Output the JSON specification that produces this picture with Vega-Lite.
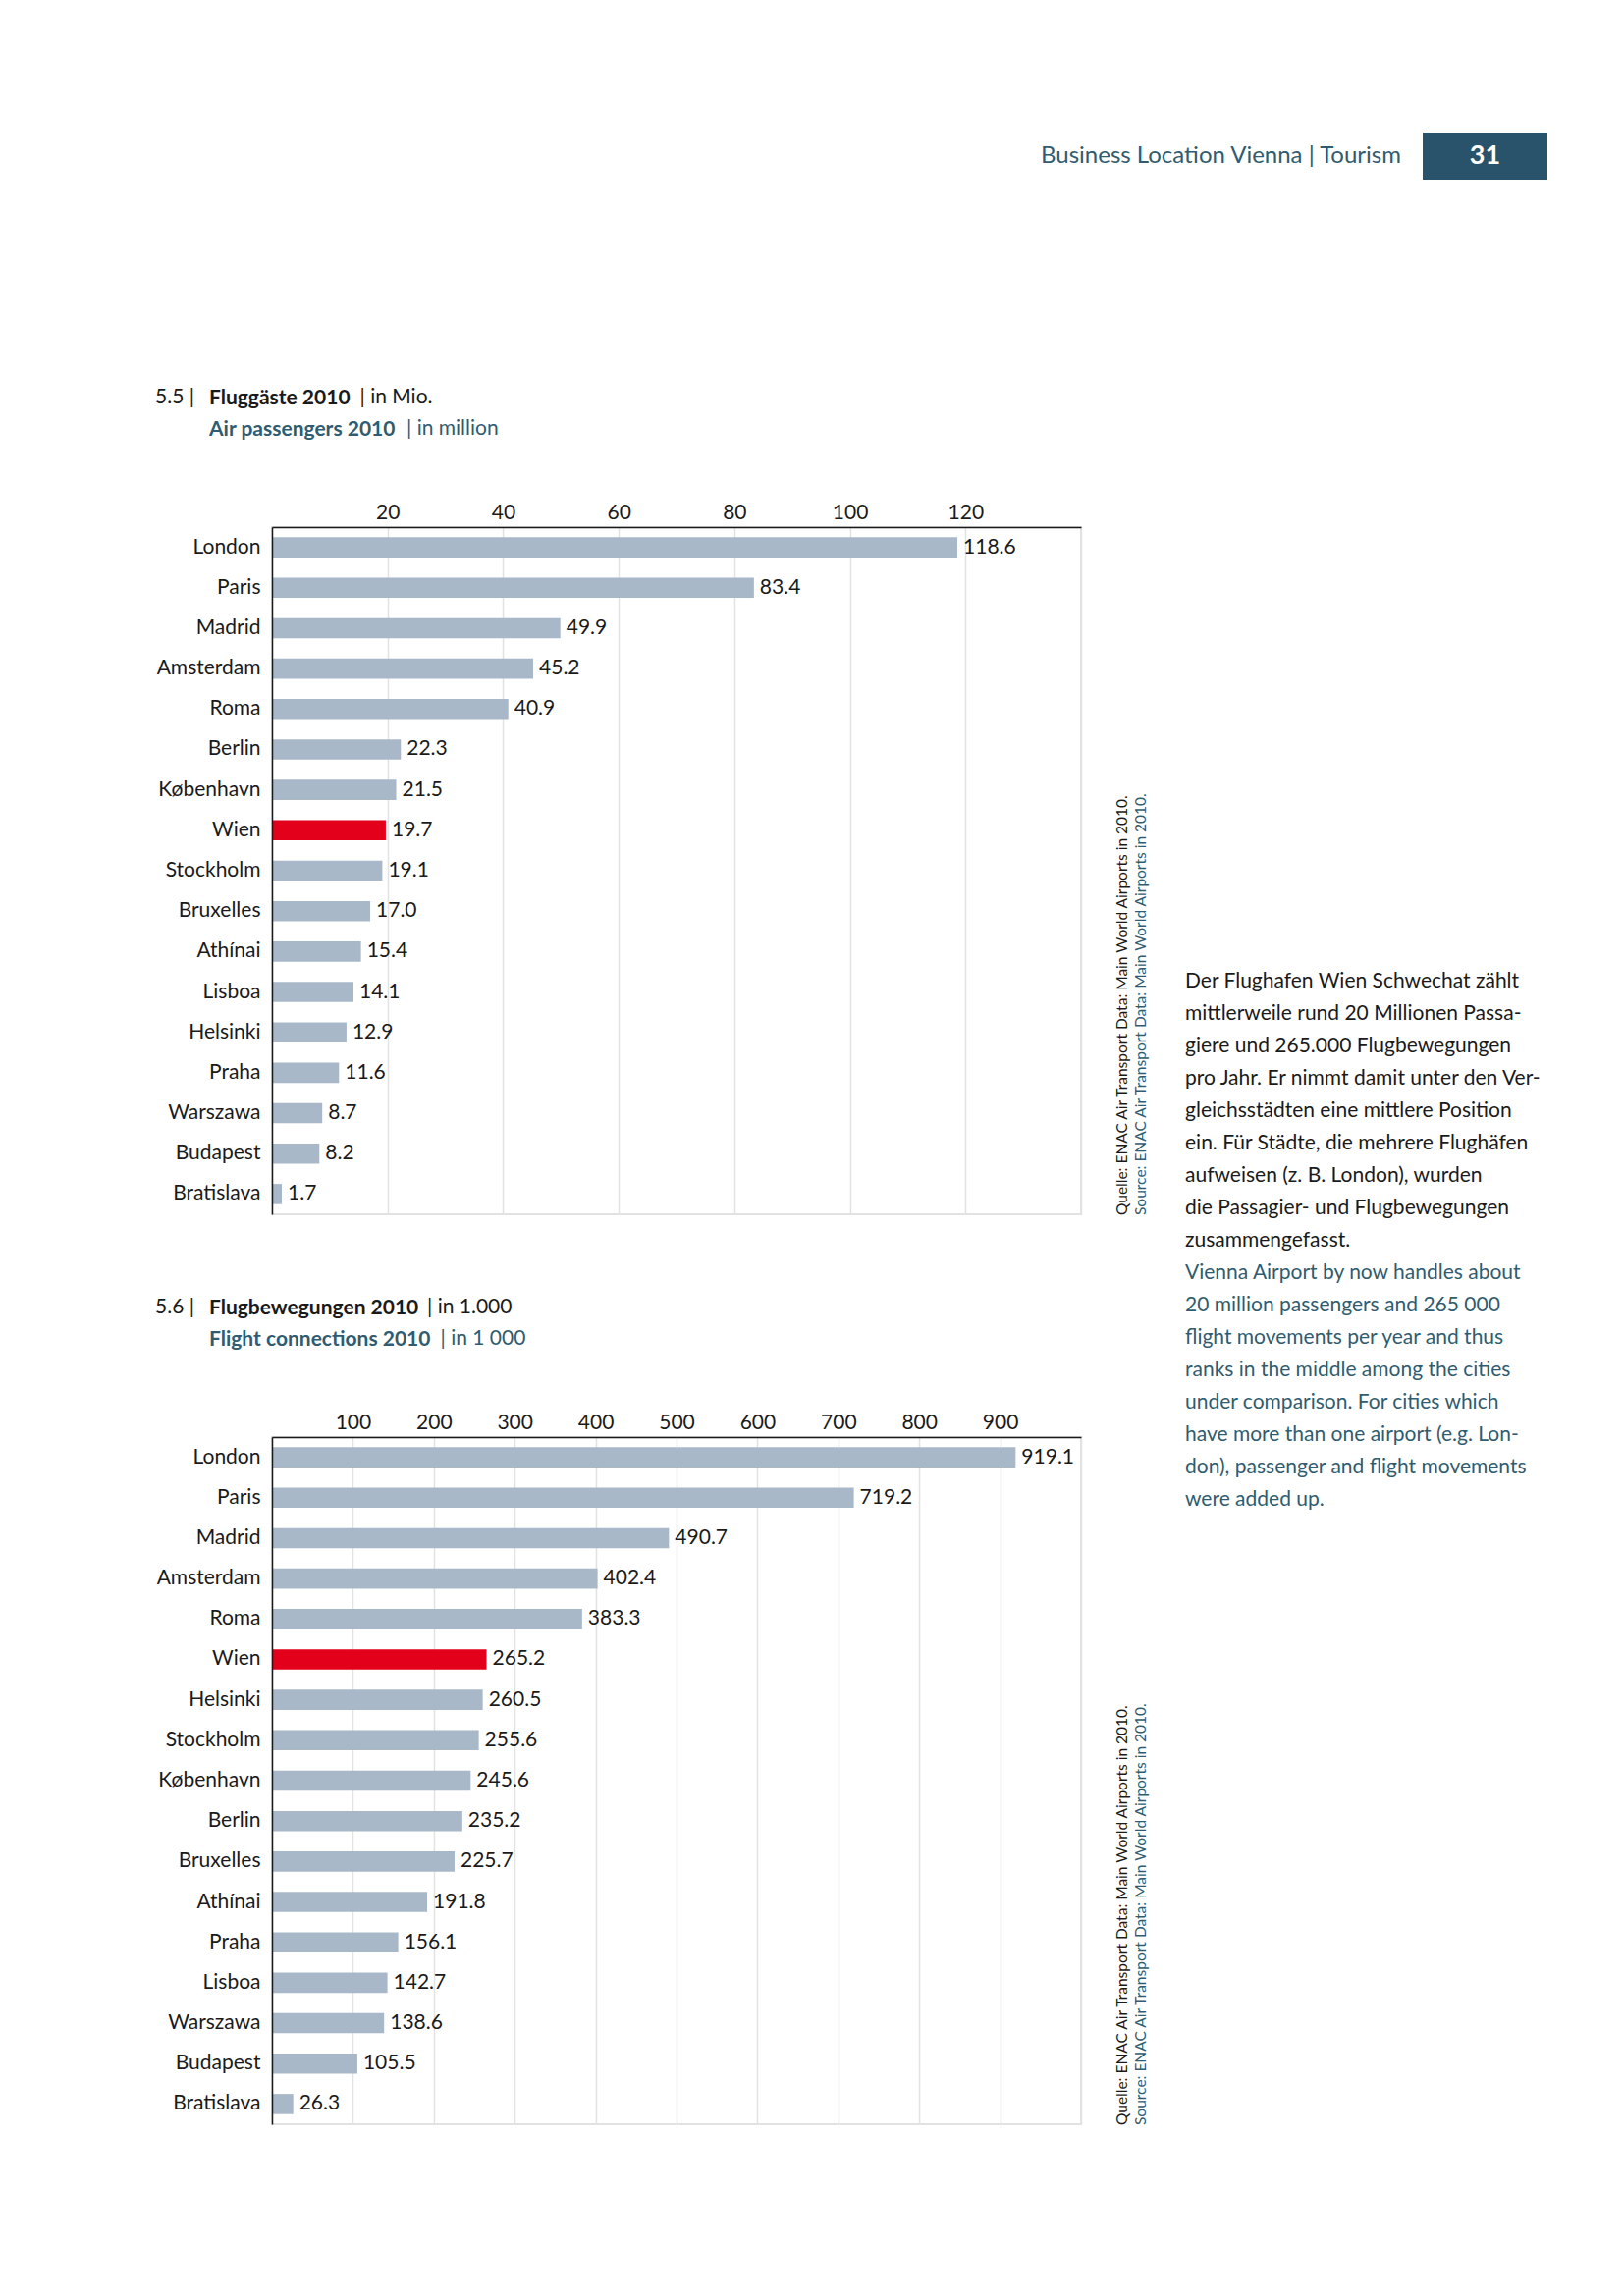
{
  "$schema": "https://vega.github.io/schema/vega-lite/v6.json",
  "background": "white",
  "padding": {"left": 158, "top": 135, "right": 0, "bottom": 0},
  "config": {"font": "Lato", "view": {"stroke": null}, "title": {"font": "Lato", "subtitleFont": "Lato"}},
  "datasets": {
    "passengers": [
      {"city": "London", "value": 118.6},
      {"city": "Paris", "value": 83.4},
      {"city": "Madrid", "value": 49.9},
      {"city": "Amsterdam", "value": 45.2},
      {"city": "Roma", "value": 40.9},
      {"city": "Berlin", "value": 22.3},
      {"city": "København", "value": 21.5},
      {"city": "Wien", "value": 19.7},
      {"city": "Stockholm", "value": 19.1},
      {"city": "Bruxelles", "value": 17.0},
      {"city": "Athínai", "value": 15.4},
      {"city": "Lisboa", "value": 14.1},
      {"city": "Helsinki", "value": 12.9},
      {"city": "Praha", "value": 11.6},
      {"city": "Warszawa", "value": 8.7},
      {"city": "Budapest", "value": 8.2},
      {"city": "Bratislava", "value": 1.7}
    ],
    "flights": [
      {"city": "London", "value": 919.1},
      {"city": "Paris", "value": 719.2},
      {"city": "Madrid", "value": 490.7},
      {"city": "Amsterdam", "value": 402.4},
      {"city": "Roma", "value": 383.3},
      {"city": "Wien", "value": 265.2},
      {"city": "Helsinki", "value": 260.5},
      {"city": "Stockholm", "value": 255.6},
      {"city": "København", "value": 245.6},
      {"city": "Berlin", "value": 235.2},
      {"city": "Bruxelles", "value": 225.7},
      {"city": "Athínai", "value": 191.8},
      {"city": "Praha", "value": 156.1},
      {"city": "Lisboa", "value": 142.7},
      {"city": "Warszawa", "value": 138.6},
      {"city": "Budapest", "value": 105.5},
      {"city": "Bratislava", "value": 26.3}
    ],
    "paragraph": [
      {"line": "Der Flughafen Wien Schwechat zählt", "lang": "de"},
      {"line": "mittlerweile rund 20 Millionen Passa-", "lang": "de"},
      {"line": "giere und 265.000 Flugbewegungen", "lang": "de"},
      {"line": "pro Jahr. Er nimmt damit unter den Ver-", "lang": "de"},
      {"line": "gleichsstädten eine mittlere Position", "lang": "de"},
      {"line": "ein. Für Städte, die mehrere Flughäfen", "lang": "de"},
      {"line": "aufweisen (z. B. London), wurden", "lang": "de"},
      {"line": "die Passagier- und Flugbewegungen", "lang": "de"},
      {"line": "zusammengefasst.", "lang": "de"},
      {"line": "Vienna Airport by now handles about", "lang": "en"},
      {"line": "20 million passengers and 265 000", "lang": "en"},
      {"line": "flight movements per year and thus", "lang": "en"},
      {"line": "ranks in the middle among the cities", "lang": "en"},
      {"line": "under comparison. For cities which", "lang": "en"},
      {"line": "have more than one airport (e.g. Lon-", "lang": "en"},
      {"line": "don), passenger and flight movements", "lang": "en"},
      {"line": "were added up.", "lang": "en"}
    ]
  },
  "spacing": 211,
  "vconcat": [
    {
      "spacing": 22,
      "hconcat": [
        {
          "width": 1150, "height": 48,
          "data": {"values": [{"label": "Business Location Vienna | Tourism"}]},
          "mark": {"type": "text", "align": "right", "baseline": "middle", "fontSize": 24, "color": "#2f5c70"},
          "encoding": {"text": {"field": "label", "type": "nominal"}, "x": {"value": "width"}}
        },
        {
          "width": 127, "height": 48,
          "view": {"fill": "#29536a", "stroke": null},
          "data": {"values": [{"page": "31"}]},
          "mark": {"type": "text", "align": "center", "baseline": "middle", "fontSize": 27, "fontWeight": "bold", "color": "#ffffff"},
          "encoding": {"text": {"field": "page", "type": "nominal"}}
        }
      ]
    },
    {
      "spacing": 35,
      "resolve": {"scale": {"x": "independent", "y": "independent", "color": "independent"}},
      "hconcat": [
        {
          "spacing": 83,
          "resolve": {"scale": {"x": "independent", "y": "independent"}},
          "vconcat": [
            {
              "title": {"text": "5.5 |", "anchor": "start", "frame": "group", "dx": -119, "offset": -21, "fontSize": 21, "fontWeight": "normal", "color": "#1a1a1a"},
              "vconcat": [
                {
                  "title": {"text": "| in million", "anchor": "start", "frame": "group", "dx": 137, "offset": -53, "fontSize": 21, "fontWeight": "normal", "color": "#2f5c70"},
                  "vconcat": [
                    {
                      "title": {"text": "| in Mio.", "anchor": "start", "frame": "group", "dx": 89.5, "offset": -21, "fontSize": 21, "fontWeight": "normal", "color": "#1a1a1a"},
                      "vconcat": [
                        {
                          "title": {"text": "Source: ENAC Air Transport Data: Main World Airports in 2010.", "subtitle": "Quelle: ENAC Air Transport Data: Main World Airports in 2010.", "orient": "right", "anchor": "end", "angle": 270, "align": "left", "offset": 18, "subtitlePadding": 4, "fontSize": 15.5, "subtitleFontSize": 15.5, "fontWeight": "normal", "subtitleFontWeight": "normal", "color": "#2f5c70", "subtitleColor": "#1a1a1a"},
                          "vconcat": [
                            {
                              "width": 824, "height": 700,
                              "data": {"name": "passengers"},
                              "view": {"stroke": "#e2e2e2", "strokeWidth": 2},
                              "title": {"text": "Fluggäste 2010", "subtitle": "Air passengers 2010", "anchor": "start", "frame": "group", "dx": -64, "offset": 63, "fontSize": 21, "subtitleFontSize": 21, "fontWeight": "bold", "subtitleFontWeight": "bold", "color": "#1a1a1a", "subtitleColor": "#2f5c70", "subtitlePadding": 11},
                              "encoding": {
                                "y": {"field": "city", "type": "nominal", "sort": null, "scale": {"paddingInner": 0.5, "paddingOuter": 0.25},
                                  "axis": {"title": null, "ticks": false, "tickSize": 0, "labelPadding": 12, "labelFontSize": 21, "labelColor": "#1a1a1a", "labelFont": "Lato", "domainColor": "#1a1a1a", "domainWidth": 1.5, "zindex": 1}}
                              },
                              "layer": [
                                {
                                  "mark": {"type": "bar"},
                                  "encoding": {
                                    "x": {"field": "value", "type": "quantitative", "scale": {"domain": [0, 140], "nice": false},
                                      "axis": {"orient": "top", "values": [20, 40, 60, 80, 100, 120, 140], "labelExpr": "datum.value >= 140 ? '' : datum.label", "grid": true, "gridColor": "#e2e2e2", "gridWidth": 1.5, "ticks": false, "tickSize": 0, "labelPadding": 5, "labelFontSize": 21, "labelColor": "#1a1a1a", "labelFont": "Lato", "domainColor": "#1a1a1a", "domainWidth": 1.5, "title": null, "labelFlush": false, "labelOverlap": false}},
                                    "color": {"condition": {"test": "datum.city === 'Wien'", "value": "#e2001a"}, "value": "#a8b8c8"}
                                  }
                                },
                                {
                                  "mark": {"type": "text", "align": "left", "baseline": "middle", "dx": 6, "fontSize": 21, "color": "#1a1a1a"},
                                  "encoding": {
                                    "x": {"field": "value", "type": "quantitative"},
                                    "text": {"field": "value", "type": "quantitative", "format": ".1f"}
                                  }
                                }
                              ]
                            }
                          ]
                        }
                      ]
                    }
                  ]
                }
              ]
            },
            {
              "title": {"text": "5.6 |", "anchor": "start", "frame": "group", "dx": -119, "offset": -21, "fontSize": 21, "fontWeight": "normal", "color": "#1a1a1a"},
              "vconcat": [
                {
                  "title": {"text": "| in 1 000", "anchor": "start", "frame": "group", "dx": 171.5, "offset": -53, "fontSize": 21, "fontWeight": "normal", "color": "#2f5c70"},
                  "vconcat": [
                    {
                      "title": {"text": "| in 1.000", "anchor": "start", "frame": "group", "dx": 158, "offset": -21, "fontSize": 21, "fontWeight": "normal", "color": "#1a1a1a"},
                      "vconcat": [
                        {
                          "title": {"text": "Source: ENAC Air Transport Data: Main World Airports in 2010.", "subtitle": "Quelle: ENAC Air Transport Data: Main World Airports in 2010.", "orient": "right", "anchor": "end", "angle": 270, "align": "left", "offset": 18, "subtitlePadding": 4, "fontSize": 15.5, "subtitleFontSize": 15.5, "fontWeight": "normal", "subtitleFontWeight": "normal", "color": "#2f5c70", "subtitleColor": "#1a1a1a"},
                          "vconcat": [
                            {
                              "width": 824, "height": 700,
                              "data": {"name": "flights"},
                              "view": {"stroke": "#e2e2e2", "strokeWidth": 2},
                              "title": {"text": "Flugbewegungen 2010", "subtitle": "Flight connections 2010", "anchor": "start", "frame": "group", "dx": -64, "offset": 63, "fontSize": 21, "subtitleFontSize": 21, "fontWeight": "bold", "subtitleFontWeight": "bold", "color": "#1a1a1a", "subtitleColor": "#2f5c70", "subtitlePadding": 11},
                              "encoding": {
                                "y": {"field": "city", "type": "nominal", "sort": null, "scale": {"paddingInner": 0.5, "paddingOuter": 0.25},
                                  "axis": {"title": null, "ticks": false, "tickSize": 0, "labelPadding": 12, "labelFontSize": 21, "labelColor": "#1a1a1a", "labelFont": "Lato", "domainColor": "#1a1a1a", "domainWidth": 1.5, "zindex": 1}}
                              },
                              "layer": [
                                {
                                  "mark": {"type": "bar"},
                                  "encoding": {
                                    "x": {"field": "value", "type": "quantitative", "scale": {"domain": [0, 1000], "nice": false},
                                      "axis": {"orient": "top", "values": [100, 200, 300, 400, 500, 600, 700, 800, 900, 1000], "labelExpr": "datum.value >= 1000 ? '' : datum.label", "grid": true, "gridColor": "#e2e2e2", "gridWidth": 1.5, "ticks": false, "tickSize": 0, "labelPadding": 5, "labelFontSize": 21, "labelColor": "#1a1a1a", "labelFont": "Lato", "domainColor": "#1a1a1a", "domainWidth": 1.5, "title": null, "labelFlush": false, "labelOverlap": false}},
                                    "color": {"condition": {"test": "datum.city === 'Wien'", "value": "#e2001a"}, "value": "#a8b8c8"}
                                  }
                                },
                                {
                                  "mark": {"type": "text", "align": "left", "baseline": "middle", "dx": 6, "fontSize": 21, "color": "#1a1a1a"},
                                  "encoding": {
                                    "x": {"field": "value", "type": "quantitative"},
                                    "text": {"field": "value", "type": "quantitative", "format": ".1f"}
                                  }
                                }
                              ]
                            }
                          ]
                        }
                      ]
                    }
                  ]
                }
              ]
            }
          ]
        },
        {
          "spacing": 0,
          "vconcat": [
            {
              "width": 2, "height": 451,
              "data": {"values": []},
              "mark": {"type": "point"}
            },
            {
              "width": 2, "height": 562,
              "data": {"name": "paragraph"},
              "mark": {"type": "text", "align": "left", "baseline": "alphabetic", "fontSize": 21},
              "encoding": {
                "y": {"field": "line", "type": "nominal", "sort": null, "axis": null, "scale": {"paddingInner": 0, "paddingOuter": 0}},
                "text": {"field": "line", "type": "nominal"},
                "color": {"field": "lang", "type": "nominal", "legend": null, "scale": {"domain": ["de", "en"], "range": ["#1a1a1a", "#2f5c70"]}}
              }
            }
          ]
        }
      ]
    }
  ]
}
